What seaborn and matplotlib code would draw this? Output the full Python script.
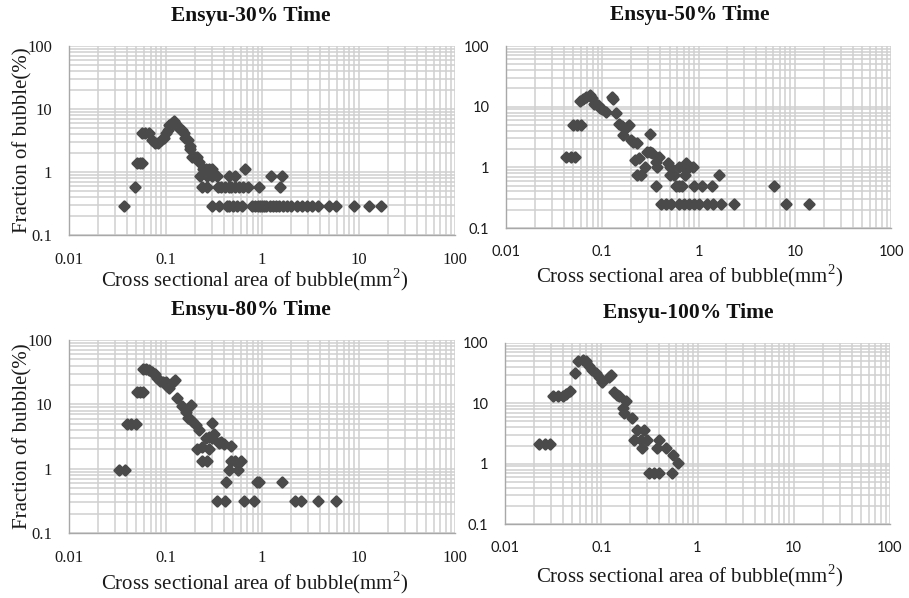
import matplotlib
matplotlib.use("Agg")
from matplotlib import pyplot as plt
from matplotlib.ticker import LogLocator, FixedFormatter, FixedLocator
import seaborn as sns
import pandas as pd

# Ensyu-30% Time
x30 = [0.037, 0.048, 0.051, 0.054, 0.057, 0.057, 0.062, 0.068,
       0.072, 0.078, 0.084, 0.090, 0.096, 0.100, 0.106, 0.110, 0.116, 0.122, 0.128, 0.134,
       0.140, 0.150, 0.155, 0.160, 0.170, 0.180, 0.180, 0.190, 0.200, 0.210, 0.220,
       0.245, 0.260, 0.280, 0.300,
       0.23, 0.27, 0.30, 0.34, 0.46, 0.52, 0.67, 1.24, 1.60,
       0.24, 0.27, 0.35, 0.38, 0.41, 0.45, 0.48, 0.52, 0.58, 0.64, 0.71, 0.94, 1.55,
       0.30, 0.36, 0.43, 0.46, 0.50, 0.55, 0.62, 0.78, 0.84, 0.90, 0.95, 1.00, 1.05, 1.10,
       1.20, 1.30, 1.40, 1.50, 1.65, 1.80, 2.00, 2.30, 2.60, 2.90, 3.30, 3.80, 4.90, 5.90,
       8.90, 12.7, 17.2]
y30 = [0.29, 0.57, 1.4, 1.4, 1.4, 4.1, 4.1, 4.1,
       3.2, 2.9, 2.9, 3.2, 3.5, 4.1, 4.6, 5.5, 6.1, 6.4, 5.8, 5.2,
       4.9, 4.6, 4.1, 3.5, 3.2, 2.6, 2.3, 1.7, 1.7, 1.7, 1.45,
       1.1, 1.1, 1.1, 1.1,
       0.86, 0.86, 0.86, 0.86, 0.86, 0.86, 1.1, 0.86, 0.86,
       0.57, 0.57, 0.57, 0.57, 0.57, 0.57, 0.57, 0.57, 0.57, 0.57, 0.57, 0.57, 0.57,
       0.29, 0.29, 0.29, 0.29, 0.29, 0.29, 0.29, 0.29, 0.29, 0.29, 0.29, 0.29, 0.29, 0.29,
       0.29, 0.29, 0.29, 0.29, 0.29, 0.29, 0.29, 0.29, 0.29, 0.29, 0.29, 0.29, 0.29, 0.29,
       0.29, 0.29, 0.29]

# Ensyu-50% Time
x50 = [0.042, 0.047, 0.052, 0.050, 0.055, 0.060,
       0.059, 0.063, 0.068, 0.074, 0.078, 0.083, 0.090, 0.095, 0.100, 0.110, 0.125, 0.130,
       0.138, 0.150, 0.160, 0.190, 0.180, 0.166, 0.200, 0.210, 0.230, 0.310,
       0.29, 0.31, 0.33, 0.39, 0.22, 0.24, 0.28, 0.25, 0.23,
       0.36, 0.37, 0.48, 0.50, 0.50, 0.55, 0.63, 0.70, 0.80, 0.74, 0.87, 0.73, 1.65,
       0.36, 0.58, 0.63, 0.68, 0.90, 1.10, 1.37, 6.10,
       0.41, 0.46, 0.52, 0.63, 0.71, 0.80, 0.90, 1.00, 1.22, 1.43, 1.70, 2.34, 8.20, 14.1]
y50 = [1.46, 1.46, 1.46, 4.9, 4.9, 4.9,
       12.5, 13.5, 14.5, 15.5, 14.0, 11.0, 10.5, 9.5, 9.0, 8.3, 14.3, 13.5,
       7.8, 5.2, 4.8, 5.0, 4.6, 3.4, 2.8, 2.6, 2.5, 3.5,
       1.8, 1.8, 1.7, 1.5, 1.3, 1.45, 1.0, 0.75, 0.75,
       1.24, 1.0, 1.2, 1.0, 0.75, 0.75, 1.0, 1.0, 1.0, 1.2, 1.0, 0.75, 0.75,
       0.49, 0.49, 0.49, 0.49, 0.49, 0.49, 0.49, 0.49,
       0.25, 0.25, 0.25, 0.25, 0.25, 0.25, 0.25, 0.25, 0.25, 0.25, 0.25, 0.25, 0.25, 0.25]

# Ensyu-80% Time
x80 = [0.033, 0.038, 0.040, 0.044, 0.050, 0.051, 0.055, 0.058,
       0.058, 0.063, 0.068, 0.072, 0.077, 0.082, 0.088, 0.094, 0.100, 0.104, 0.109, 0.120, 0.126,
       0.133, 0.150, 0.183, 0.162, 0.170, 0.180, 0.190, 0.206, 0.220, 0.305, 0.320, 0.300,
       0.26, 0.28, 0.36, 0.38, 0.40, 0.48, 0.21, 0.24, 0.28,
       0.24, 0.27, 0.48, 0.52, 0.60, 0.45, 0.57,
       0.42, 0.88, 0.92, 1.60,
       0.344, 0.41, 0.65, 0.83, 2.20, 2.54, 3.83, 5.85]
y80 = [0.95, 0.95, 4.9, 4.9, 4.9, 15.7, 15.7, 15.7,
       35, 35, 34, 32, 30, 26, 23, 22, 22.5, 19, 17.7, 22, 24,
       12.4, 9.4, 9.8, 7.7, 6.1, 6.0, 5.6, 4.8, 4.0, 5.2, 3.5, 3.0,
       3.0, 3.1, 2.5, 2.6, 2.4, 2.25, 2.0, 2.2, 2.0,
       1.33, 1.33, 1.33, 1.33, 1.33, 0.95, 0.95,
       0.63, 0.63, 0.63, 0.63,
       0.31, 0.31, 0.31, 0.31, 0.31, 0.31, 0.31, 0.31]

# Ensyu-100% Time
x100 = [0.0226, 0.0258, 0.029, 0.0315, 0.0354, 0.040, 0.043, 0.0468,
        0.054, 0.058, 0.064, 0.070, 0.075, 0.081, 0.088, 0.095, 0.103, 0.120, 0.126,
        0.136, 0.145, 0.153, 0.180, 0.168, 0.173, 0.207,
        0.237, 0.275, 0.220, 0.256, 0.300, 0.400,
        0.262, 0.380, 0.470, 0.550, 0.620,
        0.310, 0.350, 0.400, 0.540]
y100 = [2.1, 2.1, 2.1, 13, 13, 13, 14.5, 16.3,
        31.7, 50, 52, 50, 41, 36, 31.7, 27, 23, 27, 29.8,
        15.7, 14, 13, 11.1, 8.3, 7.0, 5.7,
        3.6, 3.6, 2.5, 2.5, 2.5, 2.5,
        1.8, 1.8, 1.8, 1.39, 1.04,
        0.71, 0.71, 0.71, 0.71]

titles = ['Ensyu-30% Time', 'Ensyu-50% Time', 'Ensyu-80% Time', 'Ensyu-100% Time']
tick_vals = [0.01, 0.1, 1, 10, 100]
x_tick_labels = ['0.01', '0.1', '1', '10', '100']
y_tick_vals = [0.1, 1, 10, 100]
y_tick_labels = ['0.1', '1', '10', '100']

sns.set_style("white")
plt.rcParams['font.family'] = ['Liberation Serif', 'DejaVu Serif']
plt.rcParams['mathtext.fontset'] = 'custom'
plt.rcParams['mathtext.rm'] = 'Liberation Serif'

fig = plt.figure(figsize=(9.09, 5.98), dpi=100)
W, H = 909, 598

# (left, top, right, bottom) in pixels, title centre, xlabel centre, tick font
panels = [
    dict(box=(69, 46, 455, 235), title=(251, 16), xlab=(255, 280), tick_font='Liberation Serif', tick_size=12, ylab=True),
    dict(box=(506, 46, 891, 228), title=(690, 15), xlab=(690, 276), tick_font='Lato', tick_size=10.5, ylab=False),
    dict(box=(69, 340, 455, 533), title=(251, 310), xlab=(255, 583), tick_font='Liberation Serif', tick_size=12, ylab=True),
    dict(box=(505, 343, 890, 524), title=(688, 313), xlab=(690, 576), tick_font='Lato', tick_size=10.5, ylab=False),
]
data = [(x30, y30), (x50, y50), (x80, y80), (x100, y100)]

for p, (xs, ys), title in zip(panels, data, titles):
    l, t, r, b = p['box']
    ax = fig.add_axes([l / W, 1 - b / H, (r - l) / W, (b - t) / H])
    df = pd.DataFrame({'area': xs, 'fraction': ys})
    sns.scatterplot(data=df, x='area', y='fraction', ax=ax, marker='D', s=22,
                    color='#4a4a4a', edgecolor='#4a4a4a', linewidth=2.2,
                    joinstyle='round', zorder=3)
    ax.set_xscale('log')
    ax.set_yscale('log')
    ax.set_xlim(0.01, 100)
    ax.set_ylim(0.1, 100)
    ax.xaxis.set_major_locator(FixedLocator(tick_vals))
    ax.xaxis.set_major_formatter(FixedFormatter(x_tick_labels))
    ax.yaxis.set_major_locator(FixedLocator(y_tick_vals))
    ax.yaxis.set_major_formatter(FixedFormatter(y_tick_labels))
    ax.xaxis.set_minor_locator(LogLocator(base=10, subs=range(2, 10)))
    ax.yaxis.set_minor_locator(LogLocator(base=10, subs=range(2, 10)))
    ax.grid(True, which='both', color='#d0d0d0', linewidth=1.1)
    ax.set_axisbelow(True)
    for side in ['top', 'right']:
        ax.spines[side].set_visible(False)
    for side in ['left', 'bottom']:
        ax.spines[side].set_color('#a8a8a8')
        ax.spines[side].set_linewidth(1.0)
    ax.tick_params(which='major', length=3, width=1, color='#a8a8a8', direction='out',
                   labelsize=p['tick_size'], labelcolor='#1a1a1a')
    ax.tick_params(axis='x', which='major', pad=9)
    ax.tick_params(axis='y', which='major', pad=9)
    ax.tick_params(which='minor', length=0)
    for lab in ax.get_xticklabels() + ax.get_yticklabels():
        lab.set_fontfamily(p['tick_font'])

    ax.set_xlabel('Cross sectional area of bubble(mm$^{2}$)', fontsize=15, color='#1a1a1a')
    xc, yc = p['xlab']
    ax.xaxis.set_label_coords((xc - l) / (r - l), -(yc - b) / (b - t))
    ax.xaxis.label.set_va('center')
    if p['ylab']:
        ax.set_ylabel('Fraction of bubble(%)', fontsize=15, color='#1a1a1a')
        ax.yaxis.set_label_coords((32 - l) / (r - l), 0.5)
    else:
        ax.set_ylabel('')
    tx, ty = p['title']
    fig.text(tx / W, 1 - ty / H, title, ha='center', va='center',
             fontsize=15.5, fontweight='bold', color='#111111')

fig.savefig('out.png', dpi=100)
